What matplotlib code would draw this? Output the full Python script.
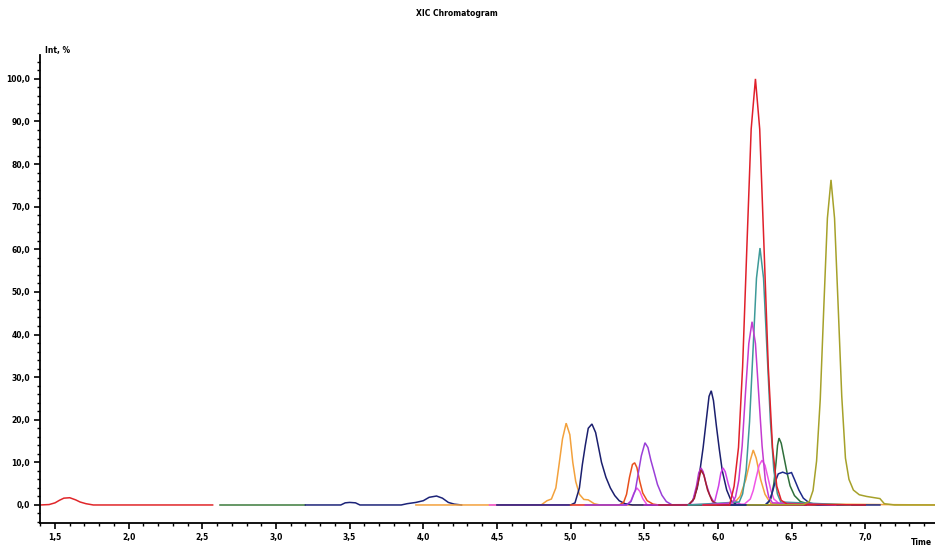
import matplotlib
matplotlib.use("Agg")
import matplotlib.pyplot as plt
from matplotlib.ticker import MultipleLocator, FuncFormatter

# ---------------- data (time in min, intensity in %) ----------------
red_a_t = [1.40, 1.46, 1.50, 1.53, 1.56, 1.60, 1.64, 1.67, 1.71, 1.76, 2.57]
red_a_i = [0.0, 0.1, 0.5, 1.1, 1.6, 1.7, 1.2, 0.7, 0.3, 0.0, 0.0]

green_a_t = [2.62, 3.20]
green_a_i = [0.0, 0.0]

navy_a_t = [3.20, 3.44, 3.47, 3.50, 3.54, 3.57, 3.85, 3.89, 3.95, 4.00, 4.04, 4.09, 4.13, 4.17, 4.21, 4.26]
navy_a_i = [0.0, 0.0, 0.5, 0.6, 0.5, 0.0, 0.0, 0.3, 0.6, 1.0, 1.8, 2.1, 1.6, 0.6, 0.2, 0.0]

orange_t = [3.95, 4.80, 4.84, 4.87, 4.90, 4.92, 4.945, 4.97, 4.995, 5.015, 5.035, 5.06, 5.09, 5.12, 5.16, 5.20,
            6.10, 6.15, 6.19, 6.22, 6.24, 6.26, 6.29, 6.32, 6.36, 7.47]
orange_i = [0.0, 0.0, 1.0, 1.4, 4.0, 9.0, 15.5, 19.2, 16.5, 10.0, 5.5, 2.5, 1.3, 1.2, 0.3, 0.0,
            0.0, 2.0, 6.0, 10.5, 12.9, 11.0, 6.0, 2.5, 0.3, 0.0]

pink_t = [4.45, 5.38, 5.41, 5.43, 5.45, 5.47, 5.49, 5.52, 6.18, 6.22, 6.24, 6.26, 6.28, 6.30, 6.32, 6.34, 6.36, 6.38, 6.42, 6.70]
pink_i = [0.0, 0.0, 1.0, 2.8, 4.0, 3.2, 1.5, 0.0, 0.2, 1.4, 3.4, 6.4, 9.3, 10.5, 9.3, 6.4, 3.4, 1.4, 0.2, 0.0]

navy_b_t = [4.50, 5.00, 5.03, 5.06, 5.08, 5.10, 5.12, 5.145, 5.17, 5.19, 5.21, 5.24, 5.27, 5.30, 5.33, 5.37, 5.42,
            5.80, 5.83, 5.86, 5.88, 5.90, 5.92, 5.94, 5.955, 5.97, 5.99, 6.01, 6.03, 6.06, 6.09, 6.13, 6.40]
navy_b_i = [0.0, 0.0, 0.5, 4.0, 9.5, 14.0, 18.0, 19.0, 17.0, 13.5, 10.0, 6.5, 4.0, 2.2, 1.0, 0.3, 0.0,
            0.0, 1.0, 4.0, 8.5, 13.5, 19.5, 25.5, 26.8, 24.5, 18.5, 13.0, 8.0, 3.5, 1.0, 0.0, 0.0]

redorange_t = [5.00, 5.33, 5.36, 5.38, 5.40, 5.42, 5.435, 5.45, 5.47, 5.49, 5.52, 5.56, 5.60, 6.60]
redorange_i = [0.0, 0.0, 0.6, 2.5, 6.5, 9.5, 9.9, 8.8, 5.5, 2.8, 1.0, 0.2, 0.0, 0.0]

purple_t = [5.10, 5.38, 5.41, 5.44, 5.46, 5.48, 5.505, 5.525, 5.545, 5.565, 5.59, 5.62, 5.65, 5.69, 6.50]
purple_i = [0.0, 0.0, 0.8, 3.5, 7.5, 11.5, 14.6, 13.5, 10.5, 8.0, 4.8, 2.3, 0.8, 0.0, 0.0]

orchid_t = [5.50, 5.80, 5.83, 5.855, 5.87, 5.885, 5.90, 5.92, 5.945, 5.97, 6.01, 6.60]
orchid_i = [0.0, 0.0, 1.0, 4.5, 7.5, 8.7, 7.8, 5.0, 2.3, 0.8, 0.0, 0.0]

violet_t = [5.60, 5.95, 5.98, 6.005, 6.02, 6.035, 6.05, 6.07, 6.095, 6.12, 6.16, 6.60]
violet_i = [0.0, 0.0, 1.0, 4.5, 7.5, 8.7, 7.8, 5.0, 2.3, 0.8, 0.0, 0.0]

maroon_t = [5.60, 5.80, 5.84, 5.865, 5.885, 5.905, 5.93, 5.96, 6.00, 6.80]
maroon_i = [0.0, 0.0, 1.5, 5.0, 8.2, 7.0, 3.5, 1.0, 0.0, 0.0]

magenta_t = [5.90, 6.097, 6.12, 6.142, 6.165, 6.187, 6.21, 6.232, 6.255, 6.277, 6.30, 6.322, 6.345, 6.37, 6.80]
magenta_i = [0.0, 0.5, 1.9, 5.8, 13.9, 26.1, 37.9, 43.0, 37.9, 26.1, 13.9, 5.8, 1.9, 0.5, 0.0]

teal_t = [5.80, 6.145, 6.168, 6.192, 6.215, 6.239, 6.262, 6.286, 6.31, 6.333, 6.357, 6.38, 6.404, 6.427, 6.90]
teal_i = [0.0, 0.7, 2.6, 8.1, 19.5, 36.6, 53.2, 60.3, 53.2, 36.6, 19.5, 8.1, 2.6, 0.7, 0.0]

dkgreen_t = [5.80, 6.33, 6.36, 6.38, 6.395, 6.405, 6.415, 6.43, 6.45, 6.47, 6.49, 6.52, 6.56, 6.62, 6.70, 7.00]
dkgreen_i = [0.0, 0.0, 1.5, 5.0, 10.0, 14.0, 15.7, 14.5, 11.0, 7.5, 4.5, 2.2, 0.8, 0.2, 0.0, 0.0]

navy_c_t = [6.00, 6.32, 6.35, 6.37, 6.39, 6.41, 6.44, 6.47, 6.50, 6.52, 6.55, 6.58, 6.62, 6.68, 7.10]
navy_c_i = [0.0, 0.0, 1.0, 3.0, 5.5, 7.3, 7.7, 7.3, 7.6, 6.0, 3.5, 1.6, 0.5, 0.0, 0.0]

red_b_t = [5.90, 6.08, 6.11, 6.14, 6.168, 6.197, 6.226, 6.255, 6.284, 6.313, 6.342, 6.371, 6.40, 6.43, 6.47, 7.00]
red_b_i = [0.0, 0.0, 4.4, 13.5, 32.5, 60.7, 88.2, 100.0, 88.2, 60.7, 32.5, 13.5, 4.4, 1.1, 0.2, 0.0]

olive_t = [6.20, 6.58, 6.621, 6.646, 6.67, 6.695, 6.719, 6.7435, 6.768, 6.792, 6.817, 6.841, 6.866, 6.89, 6.92,
           6.96, 7.01, 7.10, 7.13, 7.20, 7.47]
olive_i = [0.0, 0.1, 0.85, 3.4, 10.3, 24.8, 46.3, 67.3, 76.3, 67.3, 46.3, 25.5, 11.0, 6.0, 3.5,
           2.4, 2.0, 1.5, 0.3, 0.0, 0.0]

traces = [
    (red_a_t, red_a_i, "#e0262a"),
    (green_a_t, green_a_i, "#3c7a3c"),
    (navy_a_t, navy_a_i, "#1c2378"),
    (orange_t, orange_i, "#f3a13c"),
    (pink_t, pink_i, "#f055e6"),
    (navy_b_t, navy_b_i, "#1b1f6e"),
    (redorange_t, redorange_i, "#e8501c"),
    (purple_t, purple_i, "#9a3fd8"),
    (orchid_t, orchid_i, "#b832c8"),
    (violet_t, violet_i, "#d040e8"),
    (maroon_t, maroon_i, "#a0202e"),
    (dkgreen_t, dkgreen_i, "#2f6f3b"),
    (navy_c_t, navy_c_i, "#1e2a8a"),
    (teal_t, teal_i, "#3d9a98"),
    (magenta_t, magenta_i, "#c43ad0"),
    (red_b_t, red_b_i, "#e0202a"),
    (olive_t, olive_i, "#a6a12a"),
]

title_text = "XIC Chromatogram"
ylabel_text = "Int, %"
xlabel_text = "Time"

# ---------------- figure ----------------
W, H = 935, 549
fig = plt.figure(figsize=(W / 100, H / 100), dpi=100)
ax = fig.add_axes([40 / W, 26 / H, (W - 40) / W, (523 - 55) / H])

for t, i, c in traces:
    ax.plot(t, i, color=c, lw=1.1, solid_joinstyle="miter")

ax.set_xlim(1.398, 7.474)
ax.set_ylim(-4.23, 105.6)

for s in ("top", "right"):
    ax.spines[s].set_visible(False)
for s in ("left", "bottom"):
    ax.spines[s].set_linewidth(1.3)
    ax.spines[s].set_color("black")

fmt = FuncFormatter(lambda v, p: f"{v:.1f}".replace(".", ","))
ax.xaxis.set_major_locator(MultipleLocator(0.5))
ax.xaxis.set_minor_locator(MultipleLocator(0.1))
ax.yaxis.set_major_locator(MultipleLocator(10))
ax.yaxis.set_minor_locator(MultipleLocator(2))
ax.xaxis.set_major_formatter(fmt)
ax.yaxis.set_major_formatter(fmt)

ax.tick_params(axis="both", which="major", length=4, width=1.2, labelsize=5.5, pad=3)
ax.tick_params(axis="both", which="minor", length=2, width=1.0)
for lab in ax.get_xticklabels() + ax.get_yticklabels():
    lab.set_fontweight("bold")

fig.text(457 / W, 1 - 14 / H, title_text, ha="center", va="center", fontsize=5.5, fontweight="bold")
fig.text(45 / W, 1 - 50 / H, ylabel_text, ha="left", va="center", fontsize=5.5, fontweight="bold")
fig.text(932 / W, 2 / H, xlabel_text, ha="right", va="bottom", fontsize=5.5, fontweight="bold")

fig.savefig("out.png", dpi=100)
